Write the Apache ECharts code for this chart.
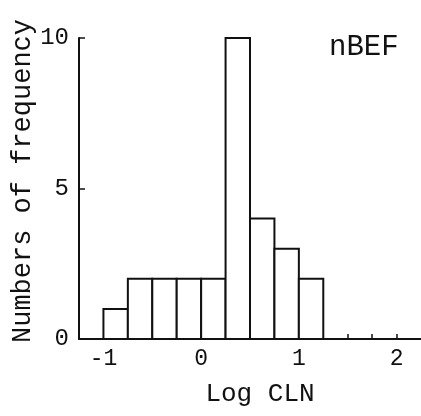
<!DOCTYPE html>
<html><head><meta charset="utf-8">
<script src="https://cdn.jsdelivr.net/npm/echarts@6/dist/echarts.min.js"></script>
<style>html,body{margin:0;padding:0;background:#fff}#c{width:421px;height:416px}</style>
</head><body><div id="c"></div>
<script>
const binStarts = [-1, -0.75, -0.5, -0.25, 0, 0.25, 0.5, 0.75, 1];
const binWidth = 0.25;
const counts = [1, 2, 2, 2, 2, 10, 4, 3, 2];
const xTickLabels = [-1, 0, 1, 2];
const xMinorTicks = [1.5, 1.75, 2];
const yTicks = [0, 5, 10];
const titleText = 'nBEF';
const xName = 'Log CLN';
const yName = 'Numbers of frequency';

const font = "'Liberation Mono', 'DejaVu Sans Mono', monospace";
const ink = '#111';
const data = binStarts.map((s, i) => [s, s + binWidth, counts[i]]);

const chart = echarts.init(document.getElementById('c'));
chart.setOption({
  backgroundColor: '#fff',
  animation: false,
  title: { text: titleText, left: 324, top: 28, textStyle: { fontFamily: font, fontSize: 29, fontWeight: 'normal', color: ink } },
  grid: { left: 79, right: 0, top: 38, bottom: 77, containLabel: false, outerBoundsMode: 'none' },
  xAxis: {
    type: 'value', min: -1.25, max: 2.25,
    splitLine: { show: false },
    axisLine: { onZero: false, lineStyle: { color: ink, width: 2 } },
    axisTick: { show: true, inside: true, length: 5, customValues: xMinorTicks, lineStyle: { color: ink, width: 1.5 } },
    axisLabel: { customValues: xTickLabels, margin: 8, fontFamily: font, fontSize: 23, color: ink },
    name: xName, nameLocation: 'middle', nameGap: 42, nameMoveOverlap: false,
    nameTextStyle: { fontFamily: font, fontSize: 26, color: ink, padding: [0, 0, 0, 20] }
  },
  yAxis: {
    type: 'value', min: 0, max: 10, interval: 5,
    splitLine: { show: false },
    axisLine: { show: true, onZero: false, lineStyle: { color: ink, width: 2 } },
    axisTick: { show: true, inside: true, length: 6, lineStyle: { color: ink, width: 1.5 } },
    axisLabel: { margin: 10, fontFamily: font, fontSize: 24, color: ink, padding: [10, 0, 0, 0] },
    name: yName, nameLocation: 'middle', nameRotate: 90, nameGap: 43, nameMoveOverlap: false,
    nameTextStyle: { fontFamily: font, fontSize: 27, color: ink, padding: [0, 0, 0, 15] }
  },
  series: [{
    type: 'custom',
    data: data,
    encode: { x: [0, 1], y: 2 },
    renderItem: function (params, api) {
      const p0 = api.coord([api.value(0), 0]);
      const p1 = api.coord([api.value(1), api.value(2)]);
      return {
        type: 'rect',
        shape: { x: p0[0], y: p1[1], width: p1[0] - p0[0], height: p0[1] - p1[1] },
        style: { fill: '#fff', stroke: ink, lineWidth: 2 }
      };
    }
  }]
});
</script></body></html>
